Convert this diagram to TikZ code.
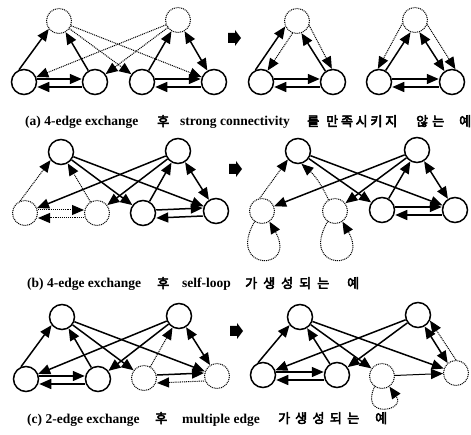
\documentclass[tikz,border=0pt]{standalone}
\usepackage{fontspec}
\setmainfont{Liberation Serif}
\newfontfamily\kr{Noto Sans CJK KR}[AutoFakeBold=4]
\usetikzlibrary{arrows.meta}
\tikzset{
 tr/.tip={Triangle[length=12pt,width=10pt]},
 nd/.style={circle,draw,line width=1.5pt,minimum size=25pt,inner sep=0pt},
 dnd/.style={circle,draw,line width=1pt,dash pattern=on 1pt off 0.9pt,minimum size=25pt,inner sep=0pt},
 e/.style={line width=1.5pt,-tr},
 ee/.style={line width=1.5pt,tr-tr},
 de/.style={line width=1pt,dash pattern=on 1pt off 0.9pt,-tr},
 lab/.style={anchor=base west,inner sep=0pt,font=\fontsize{13.5}{15}\selectfont\bfseries},
 klab/.style={anchor=base west,inner sep=0pt,font=\fontsize{13}{15}\selectfont\kr\bfseries}
}
\newcommand{\blkarrow}[2]{\fill ({#1-6},{#2+5}) -- ({#1+1},{#2+5}) -- ({#1+1},{#2+8}) -- ({#1+7},{#2}) -- ({#1+1},{#2-8}) -- ({#1+1},{#2-5}) -- ({#1-6},{#2-5}) -- cycle;}
\begin{document}
\begin{tikzpicture}[x=1pt,y=1pt]
\useasboundingbox[fill=white] (0,0) rectangle (471,-435);

% ---------- (a) left ----------
\node[dnd] (aA) at (59,-21) {};
\node[dnd] (aB) at (178,-20) {};
\node[nd] (a1) at (24,-82) {};
\node[nd] (a2) at (95,-82) {};
\node[nd] (a3) at (142,-82) {};
\node[nd] (a4) at (214,-82) {};
\draw[e] (a1.112) -- (aA.218);
\draw[e] (a2) -- (aA);
\draw[e] ([yshift=3pt]a1.east) -- ([yshift=3pt]a2.west);
\draw[e] ([yshift=-5pt]a2.west) -- ([yshift=-5pt]a1.east);
\draw[de] (aA) -- (a3);
\draw[de] (aA) -- (a4);
\draw[de] (aB) -- (a1);
\draw[de] (aB) -- (a2);
\draw[e] (a3) -- (aB);
\draw[ee] (aB) -- (a4);
\draw[e] ([yshift=3pt]a3.east) -- ([yshift=3pt]a4.west);
\draw[e] ([yshift=-5pt]a4.west) -- ([yshift=-5pt]a3.east);

\blkarrow{234}{-38}

% ---------- (a) right, triangle 1 ----------
\node[dnd] (aT) at (297,-21) {};
\node[nd] (aL) at (261,-82) {};
\node[nd] (aR) at (333,-82) {};
\draw[e] (aL.115) -- (aT.205);
\draw[de] (aT.250) -- (aL.60);
\draw[e] (aR.125) -- (aT.290);
\draw[de] (aT.340) -- (aR.95);
\draw[e] ([yshift=3pt]aL.east) -- ([yshift=3pt]aR.west);
\draw[e] ([yshift=-5pt]aR.west) -- ([yshift=-5pt]aL.east);

% ---------- (a) right, triangle 2 ----------
\node[dnd] (aU) at (415,-20) {};
\node[nd] (aP) at (379,-82) {};
\node[nd] (aQ) at (452,-82) {};
\draw[de] (aU.195) -- (aP.95);
\draw[e] (aP.60) -- (aU.250);
\draw[ee] (aU.290) -- (aQ.125);
\draw[de] (aU.340) -- (aQ.75);
\draw[e] ([yshift=3pt]aP.east) -- ([yshift=3pt]aQ.west);
\draw[e] ([yshift=-5pt]aQ.west) -- ([yshift=-5pt]aP.east);

% ---------- caption (a) ----------
\node[lab] (ta1) at (25,-126) {(a) 4-edge exchange};
\node[klab] (ta2) at (157,-126) {후};
\node[lab] (ta3) at (180,-126) {strong connectivity};
\node[klab] (ta4) at (307,-126) {를};
\node[klab] (ta5) at (326,-126) {\makebox[71pt][s]{만\hfill 족\hfill 시\hfill 키\hfill 지}};
\node[klab] (ta6) at (416,-126) {\makebox[28pt][s]{않\hfill 는}};
\node[klab] (ta7) at (459,-126) {예};

% ---------- (b) left ----------
\node[nd] (bA) at (61,-152) {};
\node[nd] (bB) at (178,-151) {};
\node[dnd] (b1) at (25,-213) {};
\node[dnd] (b2) at (97,-213) {};
\node[nd] (b3) at (143,-213) {};
\node[nd] (b4) at (216,-211) {};
\draw[de] (b1.112) -- (bA.218);
\draw[de] (b2) -- (bA);
\draw[de] ([yshift=3pt]b1.east) -- ([yshift=3pt]b2.west);
\draw[de] ([yshift=-5pt]b2.west) -- ([yshift=-5pt]b1.east);
\draw[e] (bA) -- (b3);
\draw[e] (bA) -- (b4);
\draw[e] (bB) -- (b1);
\draw[e] (bB) -- (b2);
\draw[e] (b3) -- (bB);
\draw[ee] (bB) -- (b4);
\draw[e] ([yshift=3pt]b3.east) -- ([yshift=3pt]b4.west);
\draw[e] ([yshift=-5pt]b4.west) -- ([yshift=-5pt]b3.east);

\blkarrow{235}{-169}

% ---------- (b) right ----------
\node[nd] (cA) at (298,-151) {};
\node[nd] (cB) at (417,-150) {};
\node[dnd] (c1) at (262,-211) {};
\node[dnd] (c2) at (335,-211) {};
\node[nd] (c3) at (382,-210) {};
\node[nd] (c4) at (455,-210) {};
\draw[de] (c1.100) -- (cA.220);
\draw[de] (c2.120) to[bend right=12] (cA.285);
\draw[e] (cA) -- (c3);
\draw[e] (cA) -- (c4);
\draw[e] (cB) -- (c1);
\draw[e] (cB) -- (c2);
\draw[e] (c3) -- (cB);
\draw[ee] (cB) -- (c4);
\draw[e] ([yshift=3pt]c3.east) -- ([yshift=3pt]c4.west);
\draw[e] ([yshift=-5pt]c4.west) -- ([yshift=-5pt]c3.east);
\draw[de] (c1.235) .. controls +(240:58pt) and +(300:58pt) .. (c1.305);
\draw[de] (c2.235) .. controls +(240:58pt) and +(300:58pt) .. (c2.305);

% ---------- caption (b) ----------
\node[lab] (tb1) at (27,-288) {(b) 4-edge exchange};
\node[klab] (tb2) at (157,-288) {후};
\node[lab] (tb3) at (182,-288) {self-loop};
\node[klab] (tb4) at (245,-288) {가};
\node[klab] (tb5) at (263,-288) {\makebox[66pt][s]{생\hfill 성\hfill 되\hfill 는}};
\node[klab] (tb6) at (347,-288) {예};

% ---------- (c) left ----------
\node[nd] (dA) at (62,-317) {};
\node[nd] (dB) at (179,-316) {};
\node[nd] (d1) at (26,-379) {};
\node[nd] (d2) at (98,-379) {};
\node[dnd] (d3) at (144,-378) {};
\node[dnd] (d4) at (217,-376) {};
\draw[e] (d1.112) -- (dA.218);
\draw[e] (d2) -- (dA);
\draw[e] ([yshift=3pt]d1.east) -- ([yshift=3pt]d2.west);
\draw[e] ([yshift=-5pt]d2.west) -- ([yshift=-5pt]d1.east);
\draw[e] (dA) -- (d3);
\draw[e] (dA) -- (d4);
\draw[e] (dB) -- (d1);
\draw[e] (dB) -- (d2);
\draw[de] (d3) -- (dB);
\draw[ee] (dB) -- (d4);
\draw[e] ([yshift=3pt]d3.east) -- ([yshift=3pt]d4.west);
\draw[de] ([yshift=-5pt]d4.west) -- ([yshift=-5pt]d3.east);

\blkarrow{236}{-331}

% ---------- (c) right ----------
\node[nd] (fA) at (300,-317) {};
\node[nd] (fB) at (418,-315) {};
\node[nd] (f1) at (263,-375) {};
\node[nd] (f2) at (337,-375) {};
\node[dnd] (f3) at (382,-376) {};
\node[dnd] (f4) at (456,-373) {};
\draw[e] (f1.112) -- (fA.218);
\draw[e] (f2) -- (fA);
\draw[e] ([yshift=3pt]f1.east) -- ([yshift=3pt]f2.west);
\draw[e] ([yshift=-5pt]f2.west) -- ([yshift=-5pt]f1.east);
\draw[e] (fA) -- (f3);
\draw[e] (fA) -- (f4);
\draw[e] (fB) -- (f1);
\draw[e] (fB) -- (f2);
\draw[ee] (fB.300) -- (f4.130);
\draw[de] (f4.90) -- (fB.335);
\draw[e,line width=1pt] (f3) -- (f4);
\draw[de] (f3.235) .. controls +(245:36pt) and +(305:30pt) .. (f3.305);

% ---------- caption (c) ----------
\node[lab] (tc1) at (27,-423) {(c) 2-edge exchange};
\node[klab] (tc2) at (155,-423) {후};
\node[lab] (tc3) at (182,-423) {multiple edge};
\node[klab] (tc4) at (278,-423) {가};
\node[klab] (tc5) at (295,-423) {\makebox[64pt][s]{생\hfill 성\hfill 되\hfill 는}};
\node[klab] (tc6) at (375,-423) {예};
\end{tikzpicture}
\end{document}
